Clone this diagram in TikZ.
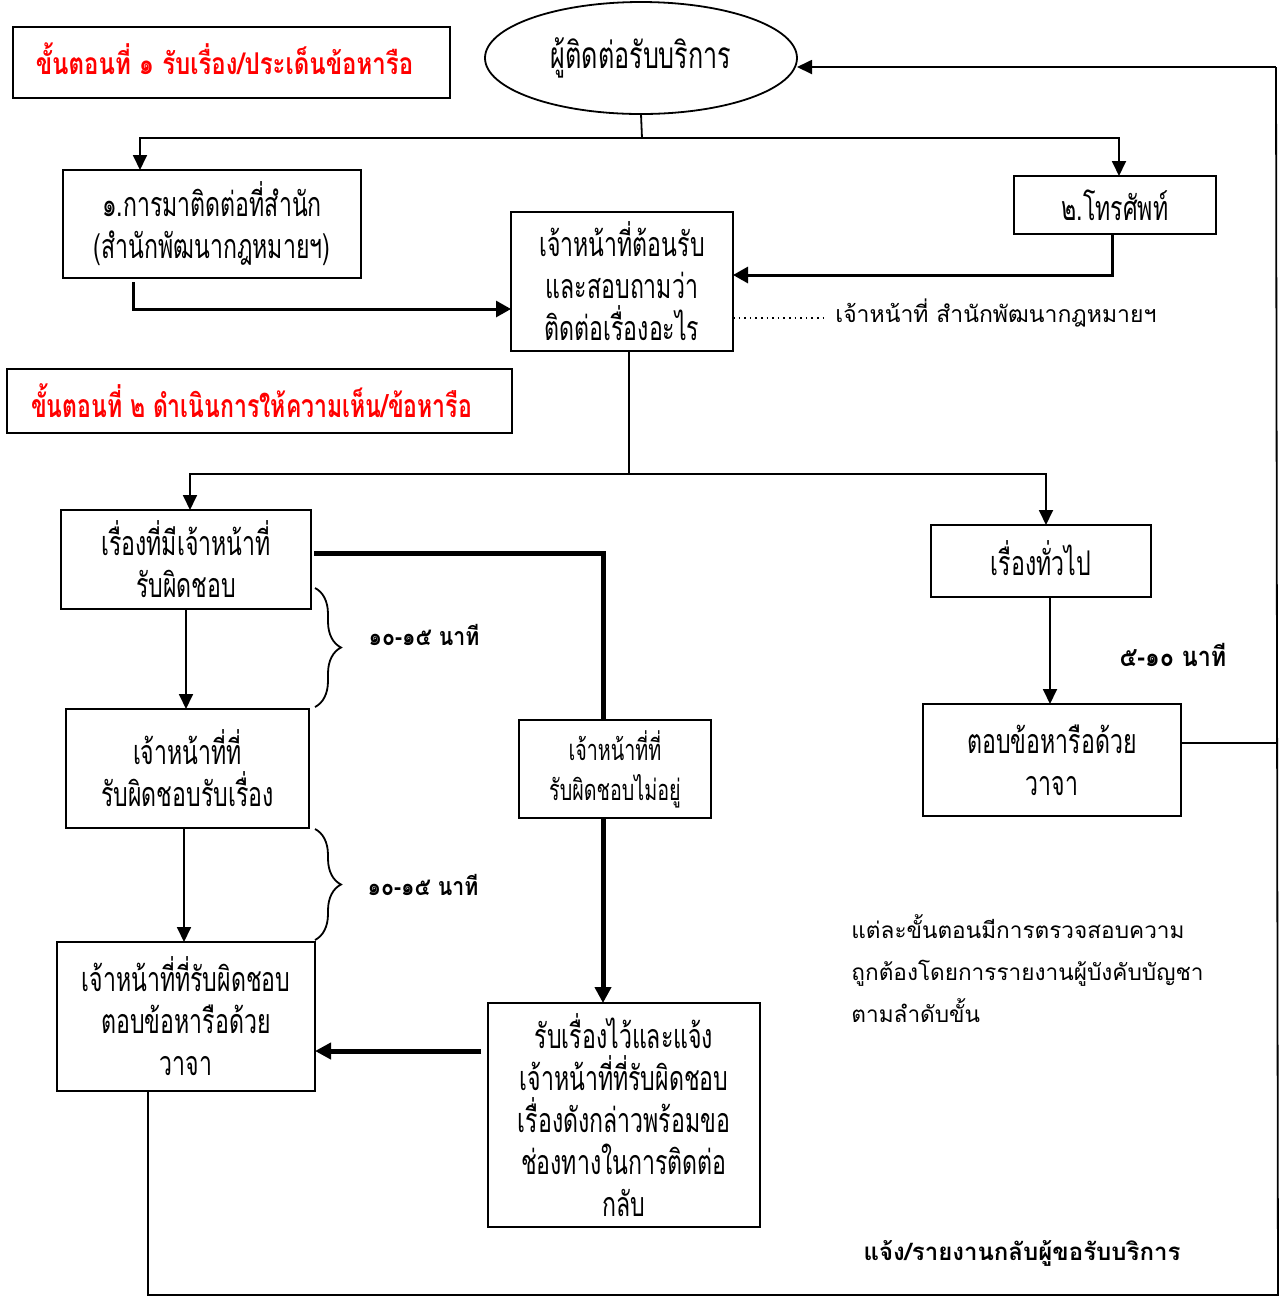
\documentclass[tikz,border=0pt]{standalone}
\usepackage{fontspec}
\usetikzlibrary{arrows.meta,decorations.pathreplacing,shapes.geometric}
\newfontfamily\thN[Script=Thai]{Loma}
\newfontfamily\thC[Script=Thai,FakeStretch=0.68]{Loma}
\newfontfamily\thT[Script=Thai,FakeStretch=0.8]{Loma}
\newfontfamily\thU[Script=Thai,FakeStretch=0.72]{Loma}
\newfontfamily\thB[Script=Thai,FakeStretch=0.85]{Loma}
\newcommand\bxfont{\thC\fontsize{17pt}{21pt}\selectfont}
\newcommand\elfont{\thC\fontsize{18.5pt}{21pt}\selectfont}
\newcommand\smbxfont{\thC\fontsize{14.5pt}{20pt}\selectfont}
\newcommand\ttlfont{\thT\bfseries\fontsize{15pt}{18pt}\selectfont}
\newcommand\ttlbfont{\thU\bfseries\fontsize{16pt}{18pt}\selectfont}
\newcommand\lbfont{\thN\fontsize{11.5pt}{21pt}\selectfont}
\newcommand\ntfont{\thN\fontsize{11.3pt}{21pt}\selectfont}
\newcommand\bdfont{\thN\bfseries\fontsize{12pt}{16pt}\selectfont}
\newcommand\tmfont{\thB\bfseries\fontsize{12.5pt}{16pt}\selectfont}
\newcommand\tmbfont{\thB\bfseries\fontsize{13.7pt}{16pt}\selectfont}
\begin{document}
\begin{tikzpicture}[x=0.5pt,y=-0.5pt,
  box/.style={draw,line width=0.9pt,inner sep=0pt,outer sep=0pt,align=center,font=\bxfont},
  ttl/.style={draw,line width=1pt,inner sep=0pt,outer sep=0pt,align=center,text=red},
  conn/.style={line width=0.9pt},
  arr/.style={line width=0.9pt,-{Triangle[length=7.5pt,width=7pt]}},
  medarr/.style={line width=1.5pt,-{Triangle[length=7.5pt,width=8pt]}},
  bigline/.style={line width=2.5pt},
  bigarr/.style={line width=2.5pt,-{Triangle[length=8pt,width=8pt]}},
  brc/.style={line width=0.9pt,decorate,decoration={brace,amplitude=13pt,aspect=0.5}}]
\useasboundingbox (0,0) rectangle (1283,1298);

% titles
\node[ttl,minimum width=218.5pt,minimum height=35.5pt,font=\ttlfont] (t1) at (231.5,62.5) {\raisebox{3.5pt}{ขั้นตอนที่ ๑ รับเรื่อง/ประเด็นข้อหารือ}\hspace{7pt}};
\node[ttl,minimum width=252.5pt,minimum height=32pt,font=\ttlbfont] (t2) at (259.5,401) {ขั้นตอนที่ ๒ ดำเนินการให้ความเห็น/ข้อหารือ\hspace{8pt}};

% nodes
\node[draw,ellipse,line width=0.9pt,inner sep=0pt,outer sep=0pt,minimum width=156pt,minimum height=56pt,font=\elfont] (ell) at (641,58) {ผู้ติดต่อรับบริการ};
\node[box,minimum width=149pt,minimum height=54pt] (b1) at (212,224) {๑.การมาติดต่อที่สำนัก\\(สำนักพัฒนากฎหมายฯ)};
\node[box,minimum width=101pt,minimum height=29pt] (b2) at (1115,205) {๒.โทรศัพท์};
\node[box,minimum width=111pt,minimum height=69.5pt] (b3) at (622,281.5) {เจ้าหน้าที่ต้อนรับ\\และสอบถามว่า\\ติดต่อเรื่องอะไร};
\node[box,minimum width=125pt,minimum height=49.5pt] (bA) at (186,559.5) {เรื่องที่มีเจ้าหน้าที่\\รับผิดชอบ};
\node[box,minimum width=110pt,minimum height=36pt] (bB) at (1041,561) {\raisebox{3pt}{เรื่องทั่วไป}};
\node[box,minimum width=96pt,minimum height=49pt,font=\smbxfont] (bC) at (615,769) {เจ้าหน้าที่ที่\\รับผิดชอบไม่อยู่};
\node[box,minimum width=121.5pt,minimum height=59.5pt] (bD) at (187.5,768.5) {เจ้าหน้าที่ที่\\รับผิดชอบรับเรื่อง};
\node[box,minimum width=136pt,minimum height=112pt] (bE) at (624,1115) {รับเรื่องไว้และแจ้ง\\เจ้าหน้าที่ที่รับผิดชอบ\\เรื่องดังกล่าวพร้อมขอ\\ช่องทางในการติดต่อ\\กลับ};
\node[box,minimum width=129pt,minimum height=74.5pt] (bF) at (186,1016.5) {เจ้าหน้าที่ที่รับผิดชอบ\\ตอบข้อหารือด้วย\\วาจา};
\node[box,minimum width=129pt,minimum height=56pt] (bG) at (1052,760) {ตอบข้อหารือด้วย\\วาจา};

% labels
\node[anchor=west,inner sep=0pt,font=\lbfont] (lab) at (835,313) {เจ้าหน้าที่ สำนักพัฒนากฎหมายฯ};
\node[font=\tmfont,inner sep=0pt] (tm1) at (424,635) {๑๐-๑๕ นาที};
\node[font=\tmfont,inner sep=0pt] (tm2) at (423,885) {๑๐-๑๕ นาที};
\node[font=\tmbfont,inner sep=0pt] (tm3) at (1173,655) {๕-๑๐ นาที};
\node[anchor=west,align=left,inner sep=0pt,font=\ntfont] (note) at (851,969) {แต่ละขั้นตอนมีการตรวจสอบความ\\ถูกต้องโดยการรายงานผู้บังคับบัญชา\\ตามลำดับขั้น};
\node[font=\bdfont,inner sep=0pt] (rep) at (1022,1253) {แจ้ง/รายงานกลับผู้ขอรับบริการ};

% coordinates
\coordinate (j1) at (642,138);
\coordinate (j2) at (629,474);
\coordinate (rtop) at (1276,67);
\coordinate (rbot) at (1278,1295);

% connectors top
\draw[conn] (ell.south) -- (j1);
\draw[arr] (j1) -| ([xshift=-36pt]b1.north);
\draw[arr] (j1) -| ([xshift=2pt]b2.north);
\draw[medarr] ([xshift=-39.5pt,yshift=-2pt]b1.south) |- ([yshift=-13.75pt]b3.west);
\draw[medarr] ([xshift=-1.5pt]b2.south) |- ([yshift=3.25pt]b3.east);
\draw[line width=0.8pt,dotted] ([yshift=-18.25pt]b3.east) coordinate (d1) -- ([xshift=-3.5pt]d1 -| lab.west);

% middle
\draw[conn] ([xshift=3.5pt]b3.south) -- (j2);
\draw[arr] (j2) -| ([xshift=2pt]bA.north);
\draw[arr] (j2) -| ([xshift=2.5pt]bB.north);
\draw[bigline] ([xshift=1.5pt,yshift=3.25pt]bA.east) -| ([xshift=-6pt]bC.north);
\draw[bigarr] ([xshift=-6pt]bC.south) -- ([xshift=-10.5pt]bE.north);
\draw[bigarr] ([xshift=-3.5pt,yshift=32pt]bE.west) coordinate (e1) -- (e1 -| bF.east);
\draw[arr] (bA.south) -- (bA.south |- bD.north);
\draw[arr] ([xshift=-1.75pt]bD.south) coordinate (e2) -- (e2 |- bF.north);
\draw[arr] ([xshift=4.5pt]bB.south) coordinate (e3) -- (e3 |- bG.north);

% braces
\draw[brc] (315,588) -- (315,707);
\draw[brc] (315,829) -- (315,940);

% return path
\draw[conn] ([yshift=8.5pt]bG.east) coordinate (g1) -- (g1 -| rtop);
\draw[conn] ([xshift=-19pt]bF.south) |- (rbot) -- (rtop);
\draw[arr] (rtop) -- (ell.east |- rtop);
\end{tikzpicture}
\end{document}
